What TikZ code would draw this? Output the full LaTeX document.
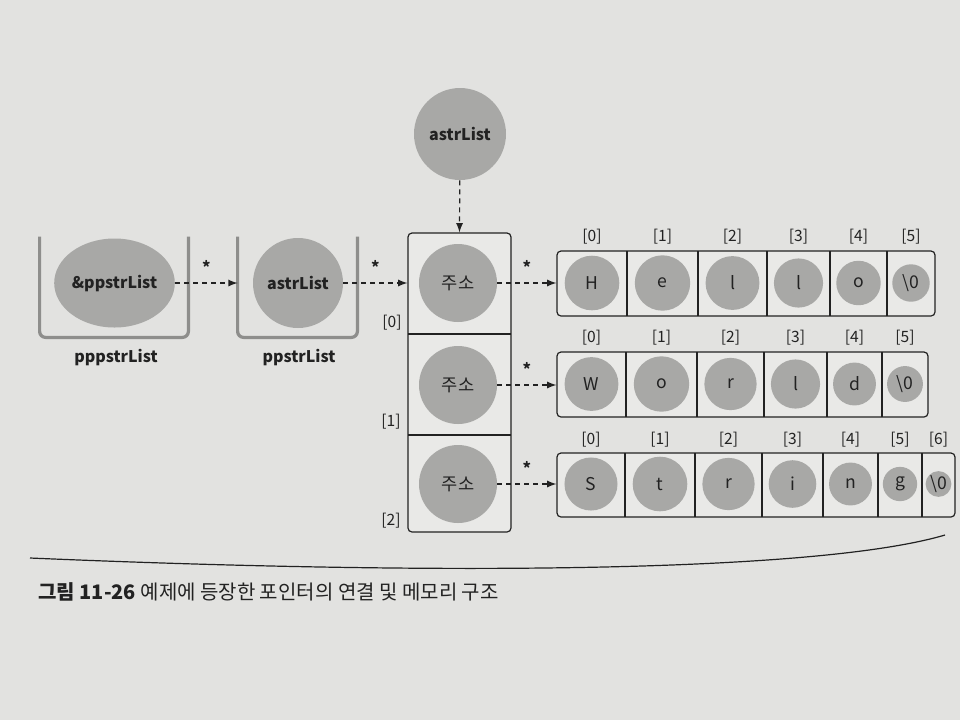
\documentclass[tikz,border=0pt]{standalone}
\usepackage{fontspec}
\setmainfont{Noto Sans CJK KR}
\usetikzlibrary{arrows, shapes, positioning, calc}
\definecolor{paper}{HTML}{E2E2E0}
\definecolor{ballgray}{HTML}{A8A8A6}
\definecolor{cellbg}{HTML}{E9E9E7}
\definecolor{cupline}{HTML}{8E8E8C}
\definecolor{ink}{HTML}{222222}

\begin{document}
\begin{tikzpicture}[x=0.5pt,y=-0.5pt,>=latex,
    every node/.style={text=ink},
    ball/.style={circle, fill=ballgray, inner sep=0pt},
    cupbox/.style={minimum width=74pt, minimum height=50pt, inner sep=0pt},
    cup/.style={draw=cupline, line width=1.6pt, rounded corners=3pt},
    strbox/.style={draw=ink, fill=cellbg, line width=0.6pt, rounded corners=2pt, inner sep=0pt},
    ptr/.style={->, draw=ink, line width=0.6pt, dash pattern=on 2.5pt off 2pt},
    deref/.style={above=1pt, font=\bfseries\fontsize{8}{8}\selectfont},
    varname/.style={font=\bfseries\fontsize{8}{9}\selectfont},
    idx/.style={font=\fontsize{7.8}{8}\selectfont},
    chr/.style={font=\fontsize{8.8}{9}\selectfont}]
    \fill [paper] (0,0) rectangle (960,720);

    % pointer chain
    \node [ball, minimum size=46pt, varname] (top) at (460,134) {astrList};
    \node [cupbox] (cup1) at (114,287) {};
    \node [cupbox, minimum width=59.5pt] (cup2) at (297.5,287) {};
    \draw [cup] (cup1.north west) -- (cup1.south west) -- (cup1.south east) -- (cup1.north east);
    \draw [cup] (cup2.north west) -- (cup2.south west) -- (cup2.south east) -- (cup2.north east);
    \node [ellipse, fill=ballgray, inner sep=0pt, minimum width=57pt, minimum height=44.5pt, varname] (amp) at (114.5,283) {\&ppstrList};
    \node [ball, minimum size=45pt, varname] (mid) at (298,283) {astrList};
    \node [varname] (lab1) at (116,357) {pppstrList};
    \node [varname] (lab2) at (299,357) {ppstrList};

    % array of addresses
    \node [strbox, minimum width=51.5pt, minimum height=149.5pt] (arr) at (459.5,382.5) {};
    \draw [draw=ink, line width=0.6pt] (408,334) -- (511,334) (408,435) -- (511,435);
    \node [ball, minimum size=39pt, chr] (a0) at (458,283) {주소};
    \node [ball, minimum size=39pt, chr] (a1) at (458,385) {주소};
    \node [ball, minimum size=39pt, chr] (a2) at (458,484) {주소};
    \node [idx] (k0) at (392,323) {[0]};
    \node [idx] (k1) at (391,422) {[1]};
    \node [idx] (k2) at (391,521) {[2]};

    % strings
    \node [strbox, minimum width=189pt, minimum height=32.5pt] (r0) at (746,283.5) {};
    \node [strbox, minimum width=185.5pt, minimum height=32.5pt] (r1) at (742.5,384.5) {};
    \node [strbox, minimum width=199pt, minimum height=32pt] (r2) at (756,485) {};
    \foreach \x in {627,698,767,830,887} \draw [draw=ink, line width=0.6pt] (\x,251) -- (\x,316);
    \foreach \x in {626,697,764,827,882} \draw [draw=ink, line width=0.6pt] (\x,352) -- (\x,417);
    \foreach \x in {625,695,762,823,878,922} \draw [draw=ink, line width=0.6pt] (\x,453) -- (\x,517);
    \foreach \l/\r/\ch [count=\i from 0] in {557/627/H, 627/698/e, 698/767/l, 767/830/l, 830/887/o, 887/935/\textbackslash0} {
        \node [ball, chr, minimum size={(\r-\l)*0.39pt}] (h\i) at ({(\l+\r)/2},283) {\ch};
        \node [idx] (hk\i) at ({(\l+\r)/2},237) {[\i]};
    }
    \foreach \l/\r/\ch [count=\i from 0] in {557/626/W, 626/697/o, 697/764/r, 764/827/l, 827/882/d, 882/928/\textbackslash0} {
        \node [ball, chr, minimum size={(\r-\l)*0.39pt}] (w\i) at ({(\l+\r)/2},384) {\ch};
        \node [idx] (wk\i) at ({(\l+\r)/2},338) {[\i]};
    }
    \foreach \l/\r/\ch [count=\i from 0] in {557/625/S, 625/695/t, 695/762/r, 762/823/i, 823/878/n, 878/922/g, 922/955/\textbackslash0} {
        \node [ball, chr, minimum size={(\r-\l)*0.39pt}] (s\i) at ({(\l+\r)/2},484) {\ch};
        \node [idx] (sk\i) at ({(\l+\r)/2},440) {[\i]};
    }

    % pointers
    \draw [ptr] (top) -- (arr.north);
    \draw [ptr] (amp.east) -- node [deref] {*} (amp.east -| cup2.west);
    \draw [ptr] (mid.east) -- node [deref] {*} (mid.east -| arr.west);
    \draw [ptr] (a0.east) -- node [deref] {*} (a0.east -| r0.west);
    \draw [ptr] (a1.east) -- node [deref] {*} (a1.east -| r1.west);
    \draw [ptr] (a2.east) -- node [deref] {*} (a2.east -| r2.west);

    % caption
    \draw [draw=ink, line width=0.6pt] (30,558) .. controls (450,576) and (820,572) .. (945,535);
    \node [anchor=west, inner sep=0pt, font=\fontsize{10}{11}\selectfont] (cap) at (38,592) {\textbf{그림 11-26} 예제에 등장한 포인터의 연결 및 메모리 구조};
\end{tikzpicture}
\end{document}
